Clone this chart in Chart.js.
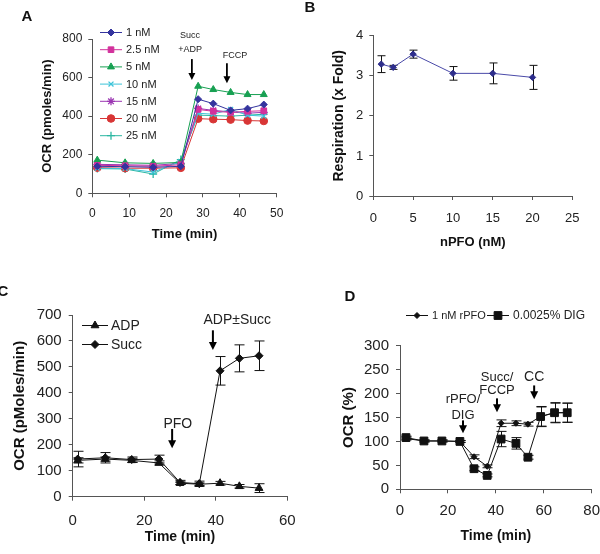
<!DOCTYPE html>
<html><head><meta charset="utf-8">
<script src="https://cdn.jsdelivr.net/npm/chart.js@4"></script>
<style>
html,body{margin:0;padding:0;background:#fff;}
#wrap{position:relative;width:600px;height:554px;overflow:hidden;}
canvas{position:absolute;left:0;top:0;width:600px;height:554px;}
</style></head><body><div id="wrap">
<canvas id="cA" width="600" height="554"></canvas>
<canvas id="cB" width="600" height="554"></canvas>
<canvas id="cC" width="600" height="554"></canvas>
<canvas id="cD" width="600" height="554"></canvas>
</div>
<script>
// ---------- DATA ----------
// Panel A
const timeA = [1.35, 8.9, 16.5, 24, 28.7, 32.8, 37.5, 42.1, 46.5];
const ocrA_1nM  = [140, 138, 135, 140, 488, 465, 430, 439, 460];
const ocrA_2p5nM= [145, 143, 140, 148, 435, 425, 420, 425, 428];
const ocrA_5nM  = [172, 158, 155, 160, 555, 538, 523, 512, 512];
const ocrA_10nM = [130, 128, 110, 165, 415, 410, 435, 405, 400];
const ocrA_15nM = [150, 148, 145, 155, 440, 430, 422, 415, 420];
const ocrA_20nM = [133, 130, 130, 132, 387, 384, 382, 377, 375];
const ocrA_25nM = [128, 126, 100, 175, 405, 403, 400, 405, 410];
const seriesNamesA = ['1 nM', '2.5 nM', '5 nM', '10 nM', '15 nM', '20 nM', '25 nM'];
const yTicksA = [0, 200, 400, 600, 800];
const xTicksA = [0, 10, 20, 30, 40, 50];

// Panel B
const concB = [1, 2.5, 5, 10, 15, 20];
const foldB = [3.29, 3.21, 3.54, 3.06, 3.06, 2.96];
const foldErrB = [0.21, 0.05, 0.10, 0.17, 0.26, 0.30];
const yTicksB = [0, 1, 2, 3, 4];
const xTicksB = [0, 5, 10, 15, 20, 25];

// Panel C
const timeC = [1.4, 9.1, 16.5, 24.1, 30, 35.4, 41.2, 46.6, 52.1];
const adpC = [140, 145, 140, 130, 52, 48, 52, 40, 33];
const adpErrC = [10, 8, 8, 8, 5, 5, 7, 7, 17];
const succC = [145, 150, 143, 145, 55, 50, 485, 533, 543];
const succErrC = [30, 20, 10, 15, 8, 10, 55, 52, 57];
const seriesNamesC = ['ADP', 'Succ'];
const yTicksC = [0, 100, 200, 300, 400, 500, 600, 700];
const xTicksC = [0, 20, 40, 60];

// Panel D
const timeD = [2.5, 10, 17.5, 25, 30.9, 36.4, 42.2, 48.4, 53.4, 58.7, 64.5, 69.8];
const rpfoD = [106, 101, 101, 100, 68, 48, 138, 138, 136, 152, 160, 160];
const rpfoErrD = [3, 2, 2, 2, 4, 3, 7, 5, 4, 20, 20, 20];
const digD = [108, 101, 101, 100, 43, 29, 105, 96, 67, 152, 160, 160];
const digErrD = [3, 2, 2, 2, 4, 3, 16, 12, 4, 21, 21, 20];
const seriesNamesD = ['1 nM rPFO', '0.0025% DIG'];
const yTicksD = [0, 50, 100, 150, 200, 250, 300];
const xTicksD = [0, 20, 40, 60, 80];

// ---------- HELPERS ----------
const FONT = "'Liberation Sans', Arial, Helvetica, sans-serif";
Chart.defaults.font.family = FONT;
Chart.defaults.color = '#222';
const AX = '#555';
const pts = (xs, ys) => xs.map((x, i) => ({x: x, y: ys[i]}));

function axes(o) {
  const mk = (horiz) => ({
    type: 'linear',
    min: horiz ? o.xTicks[0] : o.yTicks[0],
    max: horiz ? o.xTicks[o.xTicks.length - 1] : o.yTicks[o.yTicks.length - 1],
    afterBuildTicks: (s) => { s.ticks = (horiz ? o.xTicks : o.yTicks).map(v => ({value: v})); },
    ticks: horiz
      ? {font: {size: o.tick, lineHeight: o.xlh}, color: '#222', padding: 0, maxRotation: 0, autoSkip: false}
      : {font: {size: o.tick}, color: '#222', padding: o.ypad, maxRotation: 0, autoSkip: false},
    grid: {display: true, drawOnChartArea: false, drawTicks: true, tickLength: 4, color: AX, tickColor: AX},
    border: {display: true, color: AX, width: 1},
    title: horiz
      ? {display: true, text: o.xTitle, font: {size: o.xtSize, weight: 'bold'}, color: '#111', padding: {top: 0, bottom: o.xtPad}}
      : {display: true, text: o.yTitle, font: {size: o.ytSize, weight: 'bold'}, color: '#111', padding: {top: o.ytPad, bottom: 0}},
    afterFit: horiz ? (s) => { s.height = o.hx; } : (s) => { s.width = o.wy; }
  });
  return {x: mk(true), y: mk(false)};
}

function drawMarker(ctx, ds, x, y) {
  ctx.save();
  ctx.fillStyle = ds.pointBackgroundColor || ds.borderColor;
  ctx.strokeStyle = ds.pointBorderColor || ds.borderColor;
  ctx.lineWidth = ds.pointBorderWidth || 1;
  Chart.helpers.drawPoint(ctx, {pointStyle: ds.pointStyle, radius: ds.pointRadius, rotation: 0, borderWidth: ds.pointBorderWidth || 1}, x, y);
  ctx.restore();
}

function makeDecor(cfg) {
  return {
    id: 'decor',
    beforeDatasetsDraw(chart) {
      const ctx = chart.ctx, xs = chart.scales.x, ys = chart.scales.y;
      chart.data.datasets.forEach(ds => {
        if (!ds.errors) return;
        ctx.save();
        ctx.strokeStyle = cfg.errColor || '#111';
        ctx.lineWidth = 1;
        ds.data.forEach((p, i) => {
          const e = ds.errors[i];
          if (!e) return;
          const px = Math.round(xs.getPixelForValue(p.x)) + 0.5;
          const y1 = ys.getPixelForValue(p.y + e), y2 = ys.getPixelForValue(p.y - e);
          const c = cfg.cap || 4;
          ctx.beginPath();
          ctx.moveTo(px, y1); ctx.lineTo(px, y2);
          ctx.moveTo(px - c, y1); ctx.lineTo(px + c, y1);
          ctx.moveTo(px - c, y2); ctx.lineTo(px + c, y2);
          ctx.stroke();
        });
        ctx.restore();
      });
    },
    afterDraw(chart) {
      const ctx = chart.ctx, xs = chart.scales.x, ys = chart.scales.y;
      ctx.save();
      if (cfg.letter) {
        ctx.font = 'bold 15px ' + FONT;
        ctx.fillStyle = '#111';
        ctx.textAlign = 'center'; ctx.textBaseline = 'middle';
        ctx.fillText(cfg.letter.text, cfg.letter.x, cfg.letter.y);
      }
      (cfg.arrows || []).forEach(a => {
        const px = xs.getPixelForValue(a.x);
        const yt = ys.getPixelForValue(a.from), yb = ys.getPixelForValue(a.to);
        const hl = a.head || 8, hw = (a.headW || 4);
        ctx.strokeStyle = '#000'; ctx.fillStyle = '#000';
        ctx.lineWidth = a.lw || 2;
        ctx.beginPath(); ctx.moveTo(px, yt); ctx.lineTo(px, yb - hl + 1); ctx.stroke();
        ctx.beginPath(); ctx.moveTo(px - hw, yb - hl); ctx.lineTo(px + hw, yb - hl); ctx.lineTo(px, yb); ctx.closePath(); ctx.fill();
      });
      (cfg.texts || []).forEach(t => {
        ctx.font = (t.size || 12) + 'px ' + FONT;
        ctx.fillStyle = '#222';
        ctx.textAlign = 'center'; ctx.textBaseline = 'middle';
        ctx.fillText(t.text, xs.getPixelForValue(t.x), ys.getPixelForValue(t.y));
      });
      if (cfg.legend) {
        const L = cfg.legend;
        chart.data.datasets.forEach((ds, i) => {
          const it = L.items[i];
          const len = it.len || L.len;
          ctx.strokeStyle = ds.borderColor; ctx.lineWidth = ds.borderWidth || 1;
          ctx.beginPath(); ctx.moveTo(it.x, it.y + 0.5); ctx.lineTo(it.x + len, it.y + 0.5); ctx.stroke();
          drawMarker(ctx, ds, it.x + len / 2, it.y + 0.5);
          ctx.font = (it.size || L.size) + 'px ' + FONT;
          ctx.fillStyle = '#222';
          ctx.textAlign = 'left'; ctx.textBaseline = 'middle';
          ctx.fillText(ds.label, it.x + len + L.gap, it.y + 1);
        });
      }
      ctx.restore();
    }
  };
}

function lineDs(label, data, color, style, radius, extra) {
  return Object.assign({
    label: label, data: data, borderColor: color, backgroundColor: color,
    pointBackgroundColor: color, pointBorderColor: color,
    pointStyle: style, pointRadius: radius, pointHoverRadius: radius,
    pointBorderWidth: 1, borderWidth: 1, tension: 0, fill: false, clip: false
  }, extra || {});
}

const baseOpts = (padding, scales) => ({
  responsive: false, animation: false, devicePixelRatio: 1,
  layout: {padding: padding},
  plugins: {legend: {display: false}, tooltip: {enabled: false}, title: {display: false}},
  scales: scales, events: []
});

// ---------- PANEL A ----------
const colorsA = ['#34349e', '#d2319c', '#17a052', '#3cc3d8', '#9b36b2', '#d83636', '#2db7a2'];
const stylesA = ['rectRot', 'rect', 'triangle', 'crossRot', 'star', 'circle', 'cross'];
const radiiA = [3.5, 4, 4, 3.5, 4, 3.8, 4];
const seriesA = [ocrA_1nM, ocrA_2p5nM, ocrA_5nM, ocrA_10nM, ocrA_15nM, ocrA_20nM, ocrA_25nM];
new Chart(document.getElementById('cA'), {
  type: 'line',
  data: {datasets: seriesA.map((s, i) => lineDs(seriesNamesA[i], pts(timeA, s), colorsA[i], stylesA[i], radiiA[i],
    (stylesA[i] === 'cross' || stylesA[i] === 'crossRot' || stylesA[i] === 'star') ? {pointBorderWidth: 1.3} : {}))},
  options: baseOpts({left: 0, top: 39, right: 323.3, bottom: 300.7},
    axes({xTicks: xTicksA, yTicks: yTicksA, tick: 12, xlh: 2.7, ypad: 6,
      xTitle: 'Time (min)', yTitle: 'OCR (pmoles/min)', xtSize: 13, ytSize: 13, xtPad: 11, ytPad: 40, hx: 60, wy: 92.3})),
  plugins: [makeDecor({
    letter: {text: 'A', x: 27, y: 17},
    arrows: [{x: 27, from: 696, to: 587, lw: 1.8, head: 7, headW: 3.5}, {x: 36.5, from: 674, to: 571, lw: 1.8, head: 7, headW: 3.5}],
    texts: [{text: 'Succ', x: 26.5, y: 816, size: 9}, {text: '+ADP', x: 26.5, y: 743, size: 9}, {text: 'FCCP', x: 38.7, y: 712, size: 9}],
    legend: {len: 22, gap: 4, size: 11, items: [0, 1, 2, 3, 4, 5, 6].map(i => ({x: 100, y: 32 + i * 17.2}))}
  })]
});

// ---------- PANEL B ----------
new Chart(document.getElementById('cB'), {
  type: 'line',
  data: {datasets: [Object.assign(lineDs('nPFO', pts(concB, foldB), '#4a4aa8', 'rectRot', 3.2, {pointBackgroundColor: '#2e2e8c', pointBorderColor: '#2e2e8c'}), {errors: foldErrB})]},
  options: baseOpts({left: 300, top: 35.7, right: 27.7, bottom: 298},
    axes({xTicks: xTicksB, yTicks: yTicksB, tick: 13, xlh: 2.9, ypad: 6,
      xTitle: 'nPFO (nM)', yTitle: 'Respiration (x Fold)', xtSize: 13, ytSize: 14, xtPad: 6, ytPad: 31, hx: 60, wy: 73.3})),
  plugins: [makeDecor({letter: {text: 'B', x: 310, y: 8}, cap: 4})]
});

// ---------- PANEL C ----------
new Chart(document.getElementById('cC'), {
  type: 'line',
  data: {datasets: [
    Object.assign(lineDs(seriesNamesC[0], pts(timeC, adpC), '#111', 'triangle', 4.5), {errors: adpErrC}),
    Object.assign(lineDs(seriesNamesC[1], pts(timeC, succC), '#111', 'rectRot', 4), {errors: succErrC})
  ]},
  options: baseOpts({left: 0, top: 315, right: 312.7, bottom: 7.3},
    axes({xTicks: xTicksC, yTicks: yTicksC, tick: 15, xlh: 2.67, ypad: 7,
      xTitle: 'Time (min)', yTitle: 'OCR (pMoles/min)', xtSize: 14, ytSize: 15, xtPad: 1, ytPad: 11, hx: 50, wy: 72.7})),
  plugins: [makeDecor({
    letter: {text: 'C', x: 3, y: 292}, cap: 5,
    arrows: [{x: 27.8, from: 261, to: 187}, {x: 39.2, from: 641, to: 565}],
    texts: [{text: 'PFO', x: 29.4, y: 280, size: 14}, {text: 'ADP\u00B1Succ', x: 46, y: 680, size: 14}],
    legend: {len: 26, gap: 3, size: 14, items: [{x: 82, y: 325}, {x: 82, y: 344}]}
  })]
});

// ---------- PANEL D ----------
new Chart(document.getElementById('cD'), {
  type: 'line',
  data: {datasets: [
    Object.assign(lineDs(seriesNamesD[0], pts(timeD, rpfoD), '#111', 'rectRot', 3), {errors: rpfoErrD}),
    Object.assign(lineDs(seriesNamesD[1], pts(timeD, digD), '#111', 'rect', 5.5), {errors: digErrD})
  ]},
  options: baseOpts({left: 300, top: 345.7, right: 8.3, bottom: 9.7},
    axes({xTicks: xTicksD, yTicks: yTicksD, tick: 15, xlh: 2.3, ypad: 7,
      xTitle: 'Time (min)', yTitle: 'OCR (%)', xtSize: 14, ytSize: 15, xtPad: 0, ytPad: 40, hx: 55, wy: 100})),
  plugins: [makeDecor({
    letter: {text: 'D', x: 350, y: 297}, cap: 5,
    arrows: [{x: 26.3, from: 144, to: 117}, {x: 40.5, from: 190, to: 161}, {x: 56, from: 217, to: 188}],
    texts: [{text: 'rPFO/', x: 26.3, y: 188, size: 13}, {text: 'DIG', x: 26.3, y: 155, size: 13},
            {text: 'Succ/', x: 40.5, y: 234, size: 13}, {text: 'FCCP', x: 40.5, y: 207, size: 13},
            {text: 'CC', x: 56, y: 234, size: 14}],
    legend: {len: 22, gap: 4, size: 12, items: [{x: 406, y: 315, size: 11}, {x: 487, y: 315, size: 12}]}
  })]
});
</script>
</body></html>
